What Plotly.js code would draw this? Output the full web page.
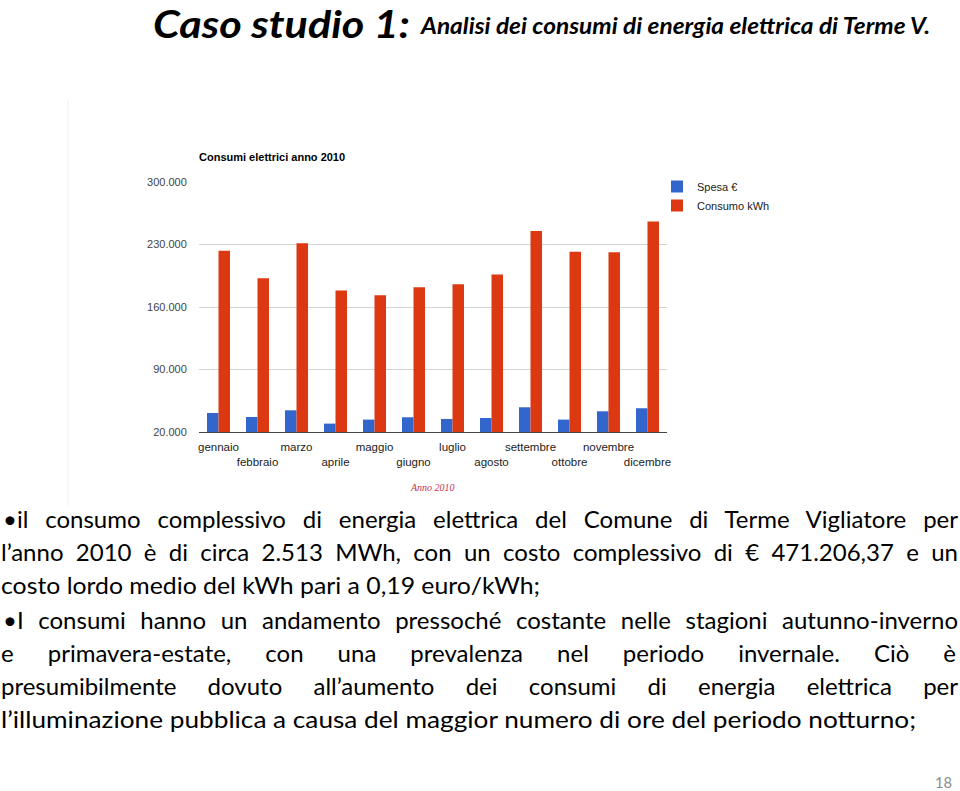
<!DOCTYPE html>
<html><head><meta charset="utf-8">
<script src="https://cdn.plot.ly/plotly-3.0.1.min.js"></script>
<style>
html,body{margin:0;padding:0;background:#fff;}
#wrap{position:relative;width:960px;height:791px;overflow:hidden;background:#fff;}
#chart{position:absolute;left:0;top:0;width:960px;height:791px;}
.txt{position:absolute;white-space:nowrap;font-family:Lato,"Open Sans",sans-serif;color:#000;transform-origin:0 50%;line-height:1;}
</style></head><body>
<div id="wrap"><div id="chart"></div></div>
<script>
// ---- data ----
const months = ['gennaio','febbraio','marzo','aprile','maggio','giugno','luglio','agosto','settembre','ottobre','novembre','dicembre'];
const spesa = [41300, 36800, 44300, 29400, 33900, 36500, 34600, 35700, 47700, 33900, 43200, 46600];
const consumo = [223000, 192300, 231400, 178500, 173200, 182200, 185600, 196500, 245200, 221900, 221300, 255700];
const seriesNames = ['Spesa €', 'Consumo kWh'];
const yTicks = [20000, 90000, 160000, 230000, 300000];
const chartTitle = 'Consumi elettrici anno 2010';
const xTitle = 'Anno 2010';

// ---- chart ----
const tickText = months.map((m, i) => (i % 2 ? '<br>' + m : m));
const traces = [
  {type:'bar', x: months, y: spesa, name: seriesNames[0], marker:{color:'#3366cc'}, hoverinfo:'skip'},
  {type:'bar', x: months, y: consumo, name: seriesNames[1], marker:{color:'#dc3912'}, hoverinfo:'skip'}
];
const L = 199, R = 667, T = 182, B = 432;
const layout = {
  width: 960, height: 791,
  margin: {l: L, r: 960 - R, t: T, b: 791 - B, pad: 0},
  paper_bgcolor: 'rgba(0,0,0,0)', plot_bgcolor: 'rgba(0,0,0,0)',
  font: {family: '"Liberation Sans", Arial, sans-serif', size: 11, color: '#222'},
  separators: ',.',
  barmode: 'group', bargap: 0.41, bargroupgap: 0,
  showlegend: true,
  title: {text: '<b>' + chartTitle + '</b>', xref: 'container', yref: 'container', x: L / 960, xanchor: 'left', y: 1 - 157 / 791, yanchor: 'middle', font: {size: 11, color: '#000'}},
  xaxis: {type: 'category', tickvals: months, ticktext: tickText, ticks: 'outside', ticklen: 4, tickcolor: 'rgba(0,0,0,0)',
          showgrid: false, zeroline: false, tickangle: 0, automargin: false,
          showline: true, linecolor: '#444', linewidth: 1, tickfont: {size: 11.5, color: '#222'}, fixedrange: true},
  yaxis: {range: [yTicks[0], yTicks[yTicks.length - 1]], tickvals: yTicks, tickformat: ',d', showgrid: true, gridcolor: '#d4d4d4', gridwidth: 1,
          zeroline: false, showline: false, ticks: 'outside', ticklen: 9, tickcolor: 'rgba(0,0,0,0)', automargin: false,
          tickfont: {size: 11, color: '#444'}, fixedrange: true},
  legend: {x: (657 - L) / (R - L), y: (B - 172) / (B - T), xanchor: 'left', yanchor: 'top', bgcolor: 'rgba(0,0,0,0)',
           font: {size: 11, color: '#222'}, itemwidth: 30, tracegroupgap: 0},
  annotations: [
    {text: '<i>' + xTitle + '</i>', xref: 'paper', yref: 'paper', x: (432 - L) / (R - L), y: (B - 487) / (B - T),
     xanchor: 'center', yanchor: 'middle', showarrow: false, font: {family: '"Liberation Serif", serif', size: 10, color: '#c8334a'}}
  ],
  shapes: [
    {type: 'line', xref: 'paper', yref: 'paper', x0: (68 - L) / (R - L), x1: (68 - L) / (R - L), y0: (B - 505) / (B - T), y1: (B - 100) / (B - T),
     line: {color: '#eeeeee', width: 1}}
  ]
};
Plotly.newPlot('chart', traces, layout, {staticPlot: true, displayModeBar: false});

// ---- slide text (HTML overlay) ----
const wrap = document.getElementById('wrap');
function addText(html, opts) {
  const d = document.createElement('div');
  d.className = 'txt';
  d.innerHTML = html;
  d.style.left = opts.left + 'px';
  d.style.fontSize = opts.fs + 'px';
  d.style.top = (opts.baseline - 0.887 * opts.fs) + 'px';
  if (opts.weight) d.style.fontWeight = opts.weight;
  if (opts.italic) d.style.fontStyle = 'italic';
  if (opts.color) d.style.color = opts.color;
  wrap.appendChild(d);
  const w = d.getBoundingClientRect().width;
  const spaces = (d.textContent.match(/ /g) || []).length;
  if (opts.justify && w < opts.width && spaces > 0) {
    d.style.wordSpacing = ((opts.width - w) / spaces) + 'px';
  } else if (opts.width) {
    d.style.transform = 'scaleX(' + (opts.width / w) + ')';
  }
  return d;
}
function measure(text, fs) {
  const d = document.createElement('span');
  d.className = 'txt';
  d.style.fontSize = fs + 'px';
  d.textContent = text;
  wrap.appendChild(d);
  const w = d.getBoundingClientRect().width;
  wrap.removeChild(d);
  return w;
}
addText('Caso studio 1:', {left: 153, fs: 38, baseline: 38, weight: 700, italic: true, width: 257});
addText('Analisi dei consumi di energia elettrica di Terme V.', {left: 421, fs: 22, baseline: 35, weight: 700, italic: true, width: 509});

const bodyLines = [
  ['•il consumo complessivo di energia elettrica del Comune di Terme Vigliatore per', 3, 523, 955, true],
  ['l’anno 2010 è di circa 2.513 MWh, con un costo complessivo di € 471.206,37 e un', 1, 556, 957, true],
  ['costo lordo medio del kWh pari a 0,19 euro/kWh;', 1, 589, 539, false],
  ['•I consumi hanno un andamento pressoché costante nelle stagioni autunno-inverno', 3, 624, 955, true],
  ['e primavera-estate, con una prevalenza nel periodo invernale. Ciò è', 1, 657, 955, true],
  ['presumibilmente dovuto all’aumento dei consumi di energia elettrica per', 1, 690, 957, true],
  ['l’illuminazione pubblica a causa del maggior numero di ore del periodo notturno;', 1, 723, 915, false]
];
// pick body size so the last (unjustified) line has its natural width
let bodyFs = 21 * 915 / measure(bodyLines[6][0], 21);
bodyFs = Math.min(bodyFs, 24);
bodyLines.forEach(l => addText(l[0], {left: l[1], fs: bodyFs, baseline: l[2] + 5, width: l[3], justify: l[4]}));
addText('18', {left: 935, fs: 15, baseline: 788, color: '#8c8c8c', width: 17});
</script>
</body></html>
